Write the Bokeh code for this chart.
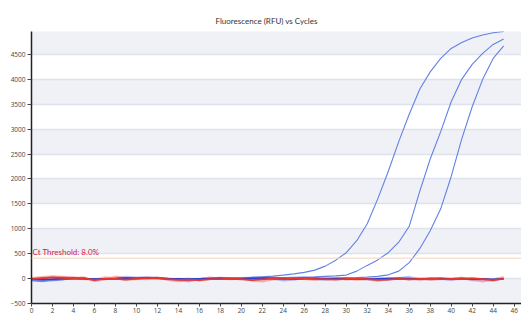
from bokeh.plotting import figure
from bokeh.models import Range1d, FixedTicker, Span, Label, BoxAnnotation
from bokeh.embed import file_html
from bokeh.resources import INLINE

cycles = list(range(0, 46))

amp_a = [-20, -40, -30, -15, 0, 5, -10, 0, 5, 10, 5, 0, 5, -5, 0, -10, 0, 5, 10, 15,
         20, 25, 35, 50, 70, 95, 125, 170, 250, 370, 520, 760, 1100, 1600, 2150, 2750,
         3300, 3800, 4150, 4420, 4620, 4740, 4830, 4890, 4935, 4960]
amp_b = [-30, -45, -25, -10, 5, 0, -15, -5, 0, 15, 10, 5, 0, -5, -15, -20, -5, 0, 5, 0,
         5, 10, 10, 15, 20, 25, 30, 35, 45, 55, 70, 150, 265, 375, 520, 730, 1050, 1750,
         2400, 2950, 3550, 4000, 4300, 4520, 4700, 4810]
amp_c = [-40, -50, -30, -20, 10, -5, -20, -10, 0, 20, 15, 20, 10, -5, -20, -30, -10, 0,
         10, -5, 0, 10, 15, 0, -20, -10, 0, 5, 0, 10, 15, 20, 30, 45, 75, 150, 320, 600,
         960, 1400, 2050, 2800, 3450, 4000, 4420, 4670]

blue_dark = [-5, -15, -10, 0, 5, 0, -10, -5, 0, 10, 5, 15, 10, 0, -5, -10, -5, 0, 5, 0,
             -5, 5, 10, 5, 0, -5, 0, 5, 0, -5, 0, -5, -10, -5, 0, 5, 0, -5, 0, 5, -5, 0,
             -10, -5, -15, -5]
blue_light = [-30, -55, -40, -20, 20, -5, -20, -10, 5, 35, 20, 30, 15, -10, -30, -60, -10,
              5, 15, -5, 10, 20, 30, -5, -40, -25, 10, -10, -30, 0, -15, -5, -20, -45, -20,
              10, 35, -15, -20, -5, -35, 15, -40, -25, -40, 0]

red_main = [-10, 10, 25, 15, 5, 10, -30, 0, -5, -20, 0, 10, 15, -10, -25, -20, -30, -10,
            -10, 0, -10, -30, -15, 0, -10, 5, 15, -5, -10, -20, -5, 0, -10, -25, -20, -5,
            -15, -5, 0, -10, -5, 0, 5, -10, -30, 0]
red_soft = [10, 30, 45, 30, 10, 25, -50, -20, 40, 10, -10, -15, 25, -30, -55, -40, -10, 20,
            0, -15, 5, -40, -60, -20, 0, 10, -10, -30, 0, 10, -20, -10, 0, -40, -10, 10,
            -20, 5, -25, -15, 0, 15, -20, -60, -20, 30]
red_pale = [0, 5, 15, 35, 20, -15, -25, 25, 10, -30, -15, 20, 0, 5, -20, 0, -45, -15, 15,
            10, -25, -10, 10, 30, -20, -15, 5, 10, -25, -5, 10, -30, -15, 0, 15, -10, 0,
            -35, 10, 5, -20, -10, 10, -15, -45, 10]

threshold = 410
threshold_text = "Ct Threshold: 8.0%"
y_ticks = list(range(-500, 5001, 500))
x_ticks = list(range(0, 47, 2))
band_step = 500

p = figure(width=521, height=315, output_backend="svg", toolbar_location=None,
           x_range=Range1d(0, 46.7), y_range=Range1d(-500, 4960),
           title="Fluorescence (RFU) vs Cycles",
           min_border_left=31, min_border_right=0, min_border_top=31, min_border_bottom=0)
p.outline_line_color = None
p.background_fill_color = "white"

p.title.align = "left"
p.title.offset = 184
p.title.standoff = 12
p.title.text_font = "Lato"
p.title.text_font_size = "8px"
p.title.text_font_style = "normal"
p.title.text_color = "#333333"

# alternating background bands
for lo in y_ticks[::2]:
    p.add_layout(BoxAnnotation(bottom=lo, top=lo + band_step, fill_color="#eff1f6",
                               fill_alpha=1.0, line_color=None, level="image"))

p.xgrid.visible = False
p.ygrid.ticker = FixedTicker(ticks=y_ticks)
p.ygrid.grid_line_color = "#dde2ec"
p.ygrid.grid_line_width = 1.5

for ax in (p.xaxis[0], p.yaxis[0]):
    ax.axis_line_color = "#222222"
    ax.axis_line_width = 1.5
    ax.major_tick_line_color = "#444444"
    ax.major_tick_out = 4
    ax.major_tick_in = 0
    ax.minor_tick_line_color = None
    ax.major_label_text_font = "Open Sans"
    ax.major_label_text_font_size = "6.5px"
    ax.major_label_text_color = "#444444"
    ax.major_label_standoff = 2
p.xaxis.major_tick_out = 3
p.xaxis.major_label_standoff = 1
p.yaxis.ticker = FixedTicker(ticks=y_ticks)
p.xaxis.ticker = FixedTicker(ticks=x_ticks)

soft_lines = [
    (blue_light, "#7f93ee", 2, 0.55),
    (red_pale, "#f4a3a0", 2, 0.7),
    (red_soft, "#f07873", 2, 0.55),
]
for ys, col, w, a in soft_lines:
    p.line(cycles, ys, line_color=col, line_width=w, line_alpha=a)

for ys in (amp_a, amp_b, amp_c):
    p.line(cycles, ys, line_color="#6281e6", line_width=1.1)

p.line(cycles, blue_dark, line_color="#2b3fcc", line_width=1.6)
p.line(cycles, red_main, line_color="#e8352e", line_width=1.8)

p.add_layout(Span(location=threshold, dimension="width", line_color="#f4d3bd", line_width=1))
p.add_layout(Label(x=0, y=threshold, text=threshold_text, x_offset=1, y_offset=1,
                   text_font="Lato", text_font_size="8px", text_color="#d0204f",
                   text_baseline="bottom"))

open("out.html", "w").write(file_html(p, INLINE))
